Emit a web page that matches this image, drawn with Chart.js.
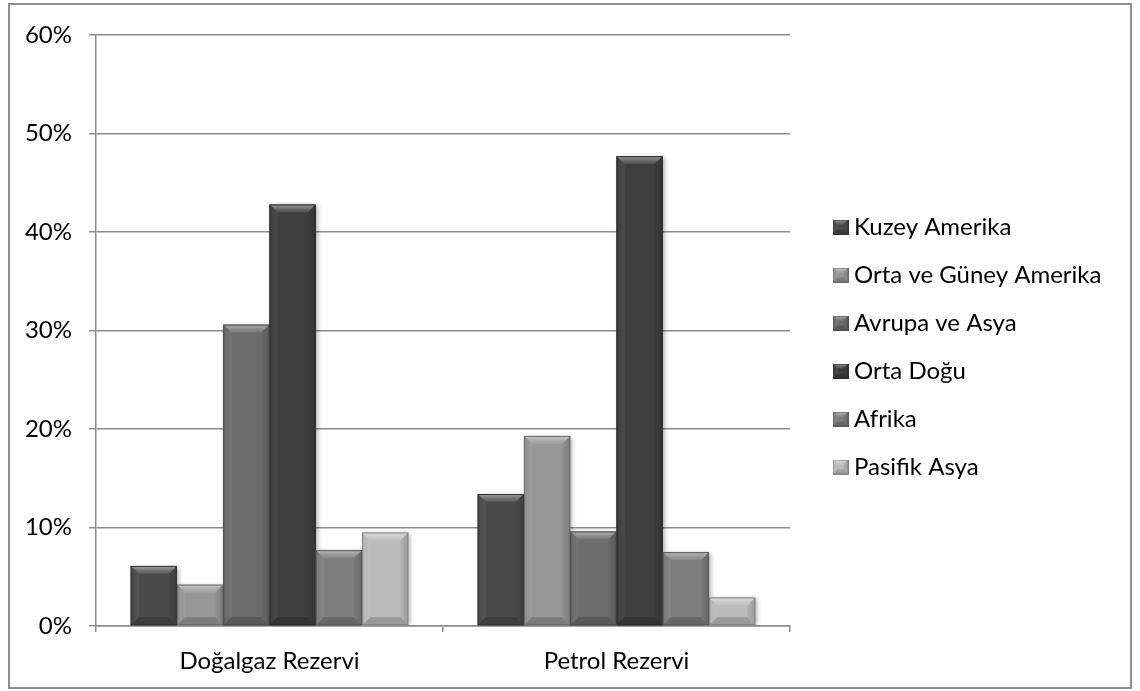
<!DOCTYPE html>
<html><head><meta charset="utf-8">
<script src="https://cdn.jsdelivr.net/npm/chart.js@4.4.1/dist/chart.umd.min.js"></script>
<style>html,body{margin:0;padding:0;background:#fff;overflow:hidden}</style>
</head><body>
<canvas id="c" width="1140" height="691" style="display:block;width:1140px;height:691px"></canvas>
<script>
// ---- data ----
const categories = ['Doğalgaz Rezervi', 'Petrol Rezervi'];
const seriesNames = ['Kuzey Amerika', 'Orta ve Güney Amerika', 'Avrupa ve Asya', 'Orta Doğu', 'Afrika', 'Pasifik Asya'];
const kuzeyAmerika = [6.1, 13.4];
const ortaVeGuneyAmerika = [4.2, 19.3];
const avrupaVeAsya = [30.6, 9.6];
const ortaDogu = [42.8, 47.7];
const afrika = [7.7, 7.5];
const pasifikAsya = [9.5, 2.9];
const yTickValues = [0, 10, 20, 30, 40, 50, 60];

// ---- styles ----
const seriesValues = [kuzeyAmerika, ortaVeGuneyAmerika, avrupaVeAsya, ortaDogu, afrika, pasifikAsya];
const seriesColors = ['#4a4a4a', '#979797', '#6c6c6c', '#3f3f3f', '#7e7e7e', '#bcbcbc'];
const FONT = 'Lato, "Open Sans", sans-serif';
const GRID = '#8c8c8c';

function shade(hex, f) {
  const n = parseInt(hex.slice(1), 16);
  let r = n >> 16, g = (n >> 8) & 255, b = n & 255;
  const m = c => Math.round(f >= 0 ? c + (255 - c) * f : c * (1 + f));
  return `rgb(${m(r)},${m(g)},${m(b)})`;
}
function bevel(ctx, l, t, r, b, color, bv) {
  const h = b - t;
  const bt = Math.min(bv, h / 2), bs = Math.min(bv, (r - l) / 2);
  ctx.save();
  // top
  const gt = ctx.createLinearGradient(0, t, 0, t + bt);
  gt.addColorStop(0, shade(color, 0.45));
  gt.addColorStop(1, shade(color, 0.06));
  ctx.fillStyle = gt;
  ctx.beginPath(); ctx.moveTo(l, t); ctx.lineTo(r, t); ctx.lineTo(r - bs, t + bt); ctx.lineTo(l + bs, t + bt); ctx.closePath(); ctx.fill();
  // left
  const gl = ctx.createLinearGradient(l, 0, l + bs, 0);
  gl.addColorStop(0, shade(color, -0.05));
  gl.addColorStop(1, shade(color, 0.06));
  ctx.fillStyle = gl;
  ctx.beginPath(); ctx.moveTo(l, t); ctx.lineTo(l + bs, t + bt); ctx.lineTo(l + bs, b - bs); ctx.lineTo(l, b); ctx.closePath(); ctx.fill();
  // right
  const gr = ctx.createLinearGradient(r - bs, 0, r, 0);
  gr.addColorStop(0, shade(color, -0.04));
  gr.addColorStop(1, shade(color, -0.18));
  ctx.fillStyle = gr;
  ctx.beginPath(); ctx.moveTo(r, t); ctx.lineTo(r - bs, t + bt); ctx.lineTo(r - bs, b - bs); ctx.lineTo(r, b); ctx.closePath(); ctx.fill();
  // bottom
  ctx.fillStyle = shade(color, -0.18);
  ctx.beginPath(); ctx.moveTo(l, b); ctx.lineTo(r, b); ctx.lineTo(r - bs, b - bs); ctx.lineTo(l + bs, b - bs); ctx.closePath(); ctx.fill();
  // outline
  ctx.strokeStyle = shade(color, -0.3);
  ctx.lineWidth = 1;
  ctx.strokeRect(l + 0.5, t + 0.5, r - l - 1, b - t - 1);
  ctx.restore();
}
const legendImages = seriesColors.map(c => {
  const cv = document.createElement('canvas');
  cv.width = 16; cv.height = 15;
  const x = cv.getContext('2d');
  x.fillStyle = c; x.fillRect(0, 0, 16, 15);
  bevel(x, 0, 0, 16, 15, c, 5);
  return cv;
});

const LEGEND_W = 252;
const bevelPlugin = {
  id: 'bevel',
  afterInit(chart) {
    const lg = chart.legend;
    const fit = lg.fit;
    lg.fit = function () { fit.call(this); this.width = LEGEND_W; };
  },
  beforeDraw(chart) {
    const ctx = chart.ctx;
    ctx.save();
    ctx.fillStyle = '#fff';
    ctx.fillRect(0, 0, chart.width, chart.height);
    ctx.strokeStyle = '#8e8e8e';
    ctx.lineWidth = 2;
    ctx.strokeRect(9, 4, 1122, 684);
    ctx.restore();
  },
  beforeDatasetsDraw(chart) {
    const ctx = chart.ctx;
    ctx.save();
    ctx.shadowColor = 'rgba(0,0,0,0.35)';
    ctx.shadowBlur = 5;
    ctx.shadowOffsetX = 2;
    ctx.shadowOffsetY = 1;
  },
  afterDatasetsDraw(chart) {
    const ctx = chart.ctx;
    ctx.restore();
    chart.getSortedVisibleDatasetMetas().forEach(meta => {
      const color = seriesColors[meta.index];
      meta.data.forEach(el => {
        const p = el.getProps(['x', 'y', 'base', 'width'], true);
        bevel(ctx, p.x - p.width / 2, Math.min(p.y, p.base), p.x + p.width / 2, Math.max(p.y, p.base), color, 8);
      });
    });
  },
  afterLayout(chart) {
    const lg = chart.legend;
    lg.left = chart.chartArea.right + 25;
    lg.right = chart.width;
    lg.width = lg.right - lg.left;
    lg.top = 3;
    lg.bottom = 691;
    lg.height = 688;
  }
};

const datasets = seriesNames.map((name, i) => ({
  label: name,
  data: seriesValues[i],
  backgroundColor: seriesColors[i],
  borderWidth: 0,
  categoryPercentage: 0.8,
  barPercentage: 1.0
}));

new Chart(document.getElementById('c'), {
  type: 'bar',
  data: { labels: categories, datasets },
  plugins: [bevelPlugin],
  options: {
    responsive: false,
    animation: false,
    events: [],
    layout: { padding: { left: 0, top: 35, right: 98, bottom: 0 } },
    plugins: {
      tooltip: { enabled: false },
      legend: {
        position: 'right',
        labels: {
          color: '#000',
          font: { family: FONT, size: 24 },
          usePointStyle: true,
          pointStyleWidth: 3,
          boxHeight: 15,
          padding: 24,
          generateLabels(chart) {
            const items = Chart.defaults.plugins.legend.labels.generateLabels(chart);
            items.forEach(it => { it.pointStyle = legendImages[it.datasetIndex]; });
            return items;
          }
        }
      }
    },
    scales: {
      x: {
        afterFit(s) { s.height = 65; },
        grid: { offset: true, drawOnChartArea: false, color: GRID, lineWidth: 1.5, tickLength: 6 },
        border: { color: GRID, width: 1.5 },
        ticks: { color: '#000', font: { family: FONT, size: 24 }, padding: 15 }
      },
      y: {
        min: 0, max: 60,
        afterFit(s) { s.width = 96; },
        afterBuildTicks(s) { s.ticks = yTickValues.map(v => ({ value: v })); },
        grid: { color: GRID, lineWidth: 1.5, tickLength: 7 },
        border: { color: GRID, width: 1.5 },
        ticks: { color: '#000', font: { family: FONT, size: 24 }, padding: 17, callback: v => v + '%' }
      }
    }
  }
});
</script>
</body></html>
